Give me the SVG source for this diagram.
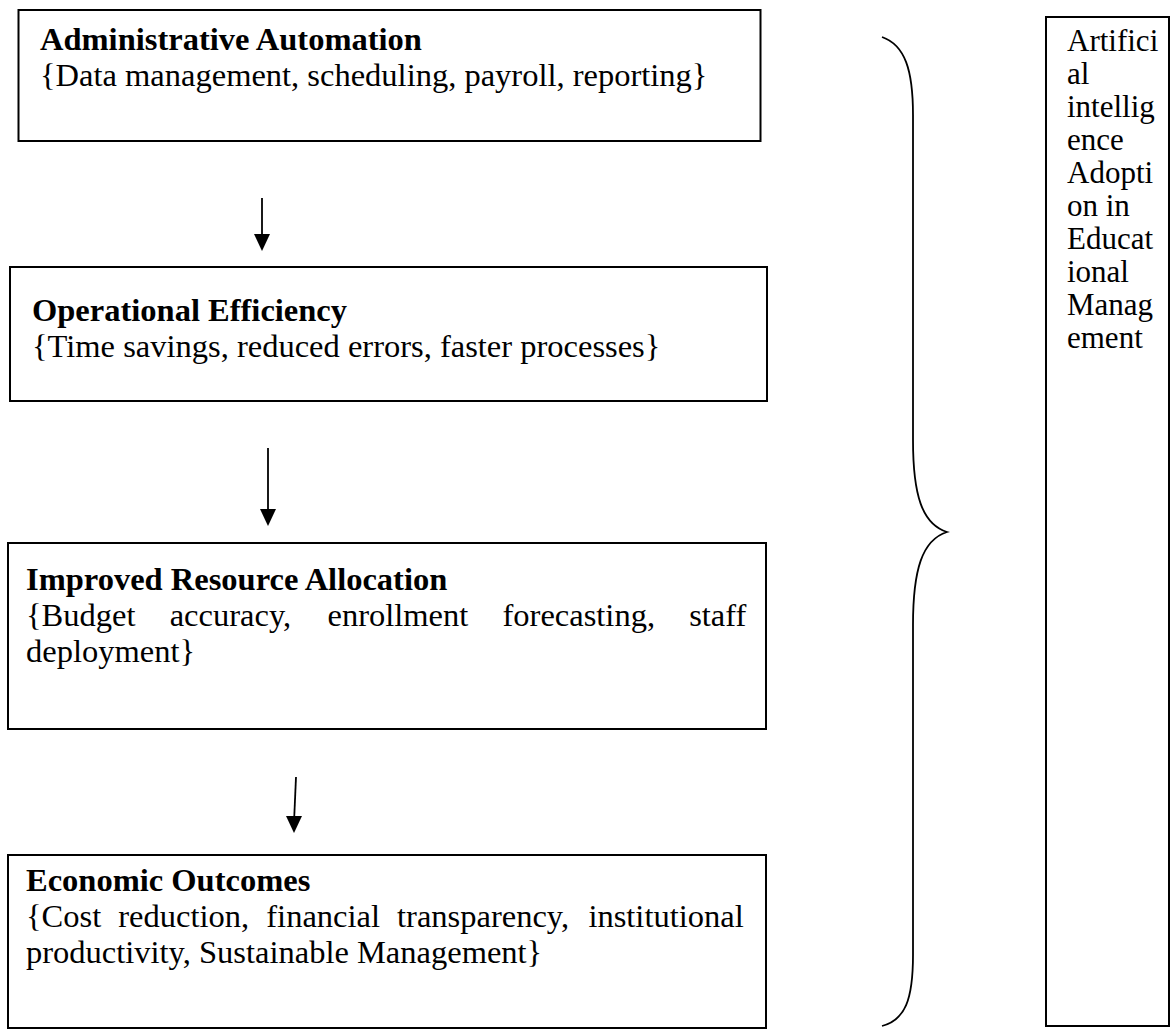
<svg xmlns="http://www.w3.org/2000/svg" width="1172" height="1034" viewBox="0 0 1172 1034">
<defs>
<style>
.box{fill:#fff;stroke:#000;stroke-width:2}
.t{font-family:"Liberation Serif","Times New Roman",serif;font-size:32.5px;fill:#000}
.r{font-size:31px}
.b{font-weight:bold}
.con{stroke:#000;stroke-width:1.8;fill:none}
.head{fill:#000}
</style>
</defs>
<rect width="1172" height="1034" fill="#fff"/>
<g id="connectors">
<line class="con" x1="262" y1="198" x2="262" y2="236"/>
<path class="head" d="M254,234 L270,234 L262,251 Z"/>
<line class="con" x1="268" y1="448" x2="268" y2="511"/>
<path class="head" d="M260,509 L276,509 L268,526 Z"/>
<line class="con" x1="296" y1="777" x2="294.2" y2="818"/>
<path class="head" d="M286,816 L302,816 L294,833 Z"/>
<path class="con" d="M882,37 C905,45 913,70 913,115 L913,440 C913,495 922,524 947,532 C922,540 913,570 913,625 L913,955 C913,1000 905,1020 882,1026"/>
</g>
<g id="node1">
<rect class="box" x="18.5" y="10" width="742" height="131"/>
<text class="t b" x="40" y="50">Administrative Automation</text>
<text class="t" x="40" y="86">{Data management, scheduling, payroll, reporting}</text>
</g>
<g id="node2">
<rect class="box" x="10" y="267" width="757" height="134"/>
<text class="t b" x="32" y="321">Operational Efficiency</text>
<text class="t" x="32" y="357">{Time savings, reduced errors, faster processes}</text>
</g>
<g id="node3">
<rect class="box" x="8" y="543" width="758" height="186"/>
<text class="t b" x="26" y="590">Improved Resource Allocation</text>
<text class="t" y="626"><tspan x="26">{Budget</tspan><tspan x="169.7">accuracy,</tspan><tspan x="327.5">enrollment</tspan><tspan x="502.5">forecasting,</tspan><tspan x="689.2">staff</tspan></text>
<text class="t" x="26" y="662">deployment}</text>
</g>
<g id="node4">
<rect class="box" x="8" y="855" width="758" height="173"/>
<text class="t b" x="26" y="891">Economic Outcomes</text>
<text class="t" y="927"><tspan x="26">{Cost</tspan><tspan x="118.3">reduction,</tspan><tspan x="266.3">financial</tspan><tspan x="397.1">transparency,</tspan><tspan x="588.4">institutional</tspan></text>
<text class="t" x="26" y="963">productivity, Sustainable Management}</text>
</g>
<g id="node5">
<rect class="box" x="1046" y="17" width="123" height="1009"/>
<text class="t r" x="1067" y="51">Artifici</text>
<text class="t r" x="1067" y="84">al</text>
<text class="t r" x="1067" y="117">intellig</text>
<text class="t r" x="1067" y="150">ence</text>
<text class="t r" x="1067" y="183">Adopti</text>
<text class="t r" x="1067" y="216">on in</text>
<text class="t r" x="1067" y="249">Educat</text>
<text class="t r" x="1067" y="282">ional</text>
<text class="t r" x="1067" y="315">Manag</text>
<text class="t r" x="1067" y="348">ement</text>
</g>
</svg>
